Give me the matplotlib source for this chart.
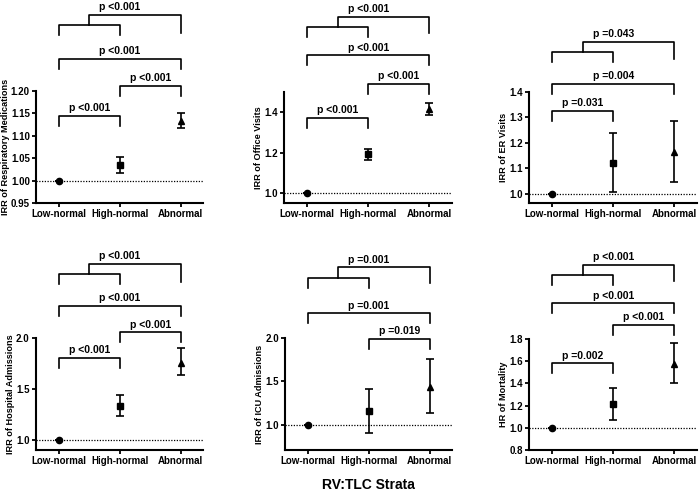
import matplotlib
matplotlib.use("Agg")
import matplotlib.pyplot as plt
import matplotlib.transforms as mtransforms

plt.rcParams['font.family'] = ['Liberation Sans', 'DejaVu Sans']
plt.rcParams['font.weight'] = 'bold'
plt.rcParams['axes.labelweight'] = 'bold'

# ---- data ----
strata = ['Low-normal', 'High-normal', 'Abnormal']
ylabels = ['IRR of Respiratory Medications', 'IRR of Office Visits', 'IRR of ER Visits',
           'IRR of Hospital Admissions', 'IRR of ICU Admissions', 'HR of Mortality']

est = [[1.0, 1.035, 1.134],
       [1.0, 1.193, 1.416],
       [1.0, 1.122, 1.163],
       [1.0, 1.337, 1.754],
       [1.0, 1.160, 1.435],
       [1.0, 1.212, 1.575]]
ci_low = [[1.0, 1.018, 1.117],
          [1.0, 1.164, 1.387],
          [1.0, 1.005, 1.046],
          [1.0, 1.236, 1.632],
          [1.0, 0.904, 1.138],
          [1.0, 1.068, 1.400]]
ci_high = [[1.0, 1.052, 1.152],
           [1.0, 1.219, 1.447],
           [1.0, 1.239, 1.287],
           [1.0, 1.442, 1.898],
           [1.0, 1.415, 1.754],
           [1.0, 1.360, 1.765]]

# p-values: low vs high, high vs abnormal, low vs abnormal, (low+high) vs abnormal
p_low_high = ['p <0.001', 'p <0.001', 'p =0.031', 'p <0.001', None, 'p =0.002']
p_high_abn = ['p <0.001', 'p <0.001', None, 'p <0.001', 'p =0.019', 'p <0.001']
p_low_abn = ['p <0.001', 'p <0.001', 'p =0.004', 'p <0.001', 'p =0.001', 'p <0.001']
p_trend = ['p <0.001', 'p <0.001', 'p =0.043', 'p <0.001', 'p =0.001', 'p <0.001']

ylims = [(0.95, 1.20), (0.95, 1.50), (0.963, 1.40), (0.9, 2.0), (0.71, 2.0), (0.8, 1.8)]
yticks = [[0.95, 1.00, 1.05, 1.10, 1.15, 1.20], [1.0, 1.2, 1.4],
          [1.0, 1.1, 1.2, 1.3, 1.4], [1.0, 1.5, 2.0], [1.0, 1.5, 2.0],
          [0.8, 1.0, 1.2, 1.4, 1.6, 1.8]]
ytick_fmt = ['%.2f', '%.1f', '%.1f', '%.1f', '%.1f', '%.1f']

# ---- layout (pixels: left, right, top, bottom) ----
W, H = 700, 492
rects = [(36, 203, 91, 203), (284, 452, 92, 203), (529, 697, 92, 203),
         (36, 203, 338, 450), (285, 452, 338, 450), (529, 697, 339, 450)]
# bracket heights in axes fraction: low-high, high-abn, low-abn, nested, connector, abn leg
heights = [(0.78, 1.045, 1.29, 1.59, 1.68, 1.52),
           (0.77, 1.07, 1.33, 1.59, 1.68, 1.53),
           (0.83, None, 1.07, 1.36, 1.45, 1.30),
           (0.82, 1.05, 1.29, 1.57, 1.66, 1.50),
           (None, 0.99, 1.22, 1.54, 1.63, 1.49),
           (0.78, 1.13, 1.32, 1.58, 1.67, 1.52)]
leg = 0.09
markers = ['o', 's', '^']

fig = plt.figure(figsize=(W / 100, H / 100), dpi=100)


def bracket(ax, x1, x2, y, label):
    tr = mtransforms.blended_transform_factory(ax.transData, ax.transAxes)
    ax.plot([x1, x1, x2, x2], [y - leg, y, y, y - leg], transform=tr,
            color='black', lw=1.2, clip_on=False)
    ax.annotate(label, xy=((x1 + x2) / 2, y), xycoords=tr, xytext=(0, 2),
                textcoords='offset points', ha='center', va='bottom', fontsize=7.5)


for k in range(6):
    l, r, t, b = rects[k]
    ax = fig.add_axes([l / W, 1 - b / H, (r - l) / W, (b - t) / H])
    xs = range(len(strata))
    for i in xs:
        ax.errorbar(i, est[k][i],
                    yerr=[[est[k][i] - ci_low[k][i]], [ci_high[k][i] - est[k][i]]],
                    fmt=markers[i], color='black', ms=4 if i else 4.5,
                    capsize=3, elinewidth=1.2, capthick=1.2)
    ax.axhline(1.0, color='black', lw=0.9, dashes=(1, 1.2))
    ax.set_xlim(-0.38, 2.37)
    ax.set_ylim(*ylims[k])
    ax.set_xticks(list(xs))
    ax.set_xticklabels(strata, fontsize=7)
    ax.set_yticks(yticks[k])
    ax.set_yticklabels([ytick_fmt[k] % v for v in yticks[k]], fontsize=7)
    ax.set_ylabel(ylabels[k], fontsize=6.6, labelpad=0.5)
    for s in ['top', 'right']:
        ax.spines[s].set_visible(False)
    for s in ['left', 'bottom']:
        ax.spines[s].set_linewidth(1.5)
    ax.tick_params(width=1.3, length=3, pad=1.5)

    h = heights[k]
    if p_low_high[k]:
        bracket(ax, 0, 1, h[0], p_low_high[k])
    if p_high_abn[k]:
        bracket(ax, 1, 2, h[1], p_high_abn[k])
    bracket(ax, 0, 2, h[2], p_low_abn[k])
    # nested bracket: (low + high) vs abnormal
    tr = mtransforms.blended_transform_factory(ax.transData, ax.transAxes)
    ax.plot([0, 0, 1, 1], [h[3] - leg, h[3], h[3], h[3] - leg], transform=tr,
            color='black', lw=1.2, clip_on=False)
    ax.plot([0.5, 0.5, 2, 2], [h[3], h[4], h[4], h[5]], transform=tr,
            color='black', lw=1.2, clip_on=False)
    ax.annotate(p_trend[k], xy=(1, h[4]), xycoords=tr, xytext=(0, 2),
                textcoords='offset points', ha='center', va='bottom', fontsize=7.5)

fig.text(368 / W, 1 - 485 / H, 'RV:TLC Strata', ha='center', va='center', fontsize=10)

fig.savefig('out.png', dpi=100)
